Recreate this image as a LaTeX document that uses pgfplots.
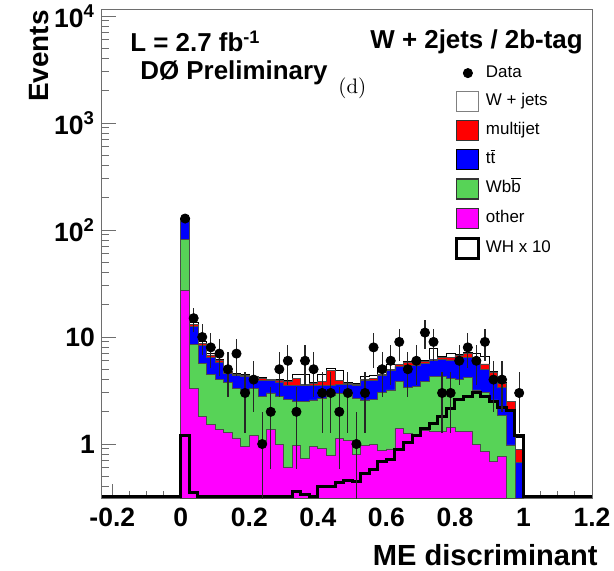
\documentclass[border=0pt]{standalone}
\usepackage{pgfplots}
\pgfplotsset{compat=1.18}
\usepackage{pgfplotstable}
\usepackage{fontspec}
\newfontfamily\hv{Liberation Sans}
\definecolor{mymag}{RGB}{255,0,255}
\definecolor{mygreen}{RGB}{87,211,87}
\definecolor{myblue}{RGB}{0,0,255}
\definecolor{myred}{RGB}{255,0,0}
\definecolor{framec}{RGB}{110,110,110}
\newcommand{\ovl}[1]{\leavevmode\vbox{\hrule height 0.5pt \kern 0.7pt \hbox{#1}}}

% cumulative stack tops per bin (left bin edge): other, +Wbb, +ttbar, +multijet, +W+jets
\pgfplotstableread{
x M G B R W
0.000 27 82 122 124 125
0.025 3.3 8.6 12.5 13.2 13.6
0.050 1.8 5.7 8.3 8.7 9.1
0.075 1.52 4.5 6.4 6.8 7.1
0.100 1.36 4.0 5.8 6.1 6.2
0.125 1.29 3.75 4.6 4.75 4.8
0.150 1.14 3.3 4.4 4.5 4.55
0.175 0.95 3.1 4.3 4.4 4.45
0.200 1.2 3.3 4.15 4.25 4.3
0.225 1.0 2.8 3.95 4.1 4.15
0.250 1.38 3.0 3.9 4.0 4.05
0.275 1.0 2.8 3.8 3.95 4.0
0.300 0.61 2.6 3.56 3.85 3.9
0.325 0.97 2.5 3.5 4.1 4.45
0.350 0.74 2.5 3.5 3.6 4.5
0.375 0.94 2.58 3.56 3.65 3.75
0.400 0.91 2.65 3.56 3.85 4.5
0.425 0.78 2.87 3.56 4.84 5.1
0.450 1.13 2.95 3.6 3.9 4.9
0.475 1.08 2.95 3.6 3.7 3.75
0.500 0.8 2.65 3.55 3.6 3.7
0.525 0.97 2.58 3.9 4.0 4.3
0.550 1.0 2.6 3.95 4.1 4.35
0.575 0.87 3.04 4.4 4.5 5.2
0.600 0.9 3.2 4.9 5.0 5.5
0.625 1.4 3.82 5.29 5.5 5.6
0.650 1.26 3.35 5.4 5.8 5.9
0.675 1.21 3.45 5.4 5.7 5.75
0.700 1.35 3.82 5.7 5.9 6.0
0.725 1.3 4.26 6.1 6.2 7.8
0.750 1.3 4.26 6.2 6.45 6.55
0.775 1.42 4.1 6.1 6.45 7.1
0.800 1.32 4.05 6.5 6.75 6.95
0.825 1.32 4.2 6.45 7.05 7.2
0.850 1.0 3.2 5.9 6.1 7.1
0.875 0.85 3.04 5.0 5.6 6.6
0.900 0.69 2.58 4.3 4.7 4.75
0.925 0.76 1.85 3.4 3.7 3.75
0.950 0.01 0.98 2.0 2.48 2.5
0.975 0.01 0.01 0.67 0.89 1.16
1.000 0.01 0.01 0.67 0.89 1.16
}\hist

\pgfplotstableread{
x WH
-0.23 0.323
0.000 1.2
0.025 0.35
0.050 0.323
0.075 0.323
0.100 0.323
0.125 0.323
0.150 0.323
0.175 0.323
0.200 0.323
0.225 0.323
0.250 0.323
0.275 0.323
0.300 0.323
0.325 0.36
0.350 0.34
0.375 0.323
0.400 0.40
0.425 0.40
0.450 0.435
0.475 0.46
0.500 0.445
0.525 0.53
0.550 0.58
0.575 0.68
0.600 0.72
0.625 0.88
0.650 1.03
0.675 1.21
0.700 1.40
0.725 1.56
0.750 1.80
0.775 2.16
0.800 2.58
0.825 2.77
0.850 3.02
0.875 2.77
0.900 2.48
0.925 2.2
0.950 2.05
0.975 1.21
1.000 0.323
1.200 0.323
}\wh

\pgfplotstableread{
x y ep em
0.0125 128 11.31 11.31
0.0375 15 3.873 3.873
0.0625 10 3.162 3.162
0.0875 8 2.828 2.828
0.1125 7 2.646 2.646
0.1375 5 2.236 2.236
0.1625 7 2.646 2.646
0.1875 3 1.732 1.732
0.2125 4 2 2
0.2375 1 1 0.999
0.2625 2 1.414 1.414
0.2875 5 2.236 2.236
0.3125 6 2.449 2.449
0.3375 2 1.414 1.414
0.3625 6 2.449 2.449
0.3875 5 2.236 2.236
0.4125 3 1.732 1.732
0.4375 3 1.732 1.732
0.4625 2 1.414 1.414
0.4875 3 1.732 1.732
0.5125 1 1 0.999
0.5375 3 1.732 1.732
0.5625 8 2.828 2.828
0.5875 5 2.236 2.236
0.6125 6 2.449 2.449
0.6375 9 3 3
0.6625 5 2.236 2.236
0.6875 6 2.449 2.449
0.7125 11 3.317 3.317
0.7375 9 3 3
0.7625 3 1.732 1.732
0.7875 3 1.732 1.732
0.8125 6 2.449 2.449
0.8375 8 2.828 2.828
0.8625 6 2.449 2.449
0.8875 9 3 3
0.9125 4 2 2
0.9375 4 2 2
0.9875 3 1.732 1.732
}\data

\begin{document}
\begin{tikzpicture}
\path[use as bounding box] (-51bp,-36.5bp) rectangle (256bp,249bp);
\begin{axis}[
  at={(0,0)}, anchor=south west,
  scale only axis, width=245bp, height=244bp,
  xmin=-0.23, xmax=1.2,
  ymode=log, ymin=0.313, ymax=11380,
  log origin y=infty,
  axis line style={draw=framec, line width=0.5bp},
  xtick={-0.2,0,0.2,0.4,0.6,0.8,1,1.2},
  xticklabels={-0.2,0,0.2,0.4,0.6,0.8,1,1.2},
  minor x tick num=3,
  ytick={1,10,100,1000,10000},
  yticklabels={1,10,10\textsuperscript{2},10\textsuperscript{3},10\textsuperscript{4}},
  minor ytick={0.4,0.5,0.6,0.7,0.8,0.9,2,3,4,5,6,7,8,9,20,30,40,50,60,70,80,90,200,300,400,500,600,700,800,900,2000,3000,4000,5000,6000,7000,8000,9000},
  xtick pos=bottom, ytick pos=left, tick align=inside,
  major tick length=7bp, minor tick length=3.5bp,
  every tick/.style={draw=framec, line width=0.5bp},
  tick label style={font=\hv\bfseries\fontsize{13.3}{15}\selectfont},
  xticklabel style={yshift=-1.5bp},
  legend style={at={(0.7204,0.892)}, anchor=north west, draw=none, fill=none,
    inner sep=0pt, row sep=4bp, font=\hv\fontsize{8.5}{10}\selectfont,
    nodes={inner ysep=0pt, inner xsep=2.8bp, text height=7bp, text depth=3bp}},
  legend cell align=left,
]
\addlegendimage{legend image code/.code={\path[draw=none, fill=none] (0bp,-5bp) rectangle (11bp,5bp); \fill[black] (5.5bp,0bp) circle (2.3bp);}}
\addlegendentry{Data}
\addlegendimage{legend image code/.code={\draw[fill=white, draw=gray, line width=0.5bp] (0bp,-5bp) rectangle (11bp,5bp);}}
\addlegendentry{W + jets}
\addlegendimage{legend image code/.code={\draw[fill=myred, draw=black!80, line width=0.5bp] (0bp,-5bp) rectangle (11bp,5bp);}}
\addlegendentry{multijet}
\addlegendimage{legend image code/.code={\draw[fill=myblue, draw=black, line width=0.6bp] (0bp,-5bp) rectangle (11bp,5bp);}}
\addlegendentry{t\ovl{t}}
\addlegendimage{legend image code/.code={\draw[fill=mygreen, draw=black!80, line width=0.6bp] (0bp,-5bp) rectangle (11bp,5bp);}}
\addlegendentry{Wb\ovl{b}}
\addlegendimage{legend image code/.code={\draw[fill=mymag, draw=black!80, line width=0.5bp] (0bp,-5bp) rectangle (11bp,5bp);}}
\addlegendentry{other}
\addlegendimage{legend image code/.code={\draw[fill=white, draw=black, line width=1.5bp] (0bp,-5bp) rectangle (11bp,5bp);}}
\addlegendentry{WH x 10}

\addplot[const plot, fill=white, draw=black, line width=0.4bp, forget plot] table[x=x,y=W]{\hist} \closedcycle;
\addplot[const plot, fill=myred, draw=black!70, line width=0.4bp, forget plot] table[x=x,y=R]{\hist} \closedcycle;
\addplot[const plot, fill=myblue, draw=black!70, line width=0.4bp, forget plot] table[x=x,y=B]{\hist} \closedcycle;
\addplot[const plot, fill=mygreen, draw=black!70, line width=0.4bp, forget plot] table[x=x,y=G]{\hist} \closedcycle;
\addplot[const plot, fill=mymag, draw=black!70, line width=0.4bp, forget plot] table[x=x,y=M]{\hist} \closedcycle;
\addplot[const plot, draw=black, line width=1.5bp, forget plot] table[x=x,y=WH]{\wh};
\addplot[only marks, mark=*, mark size=2.3bp, black, forget plot,
  error bars/.cd, y dir=both, y explicit, error mark=none,
  error bar style={line width=0.6bp, black!85}]
  table[x=x, y=y, y error plus=ep, y error minus=em]{\data};
\end{axis}
\node[rotate=90, anchor=base east, inner sep=0pt, font=\hv\bfseries\fontsize{14}{16}\selectfont] at (-27bp,244bp) {Events};
\node[anchor=base east, inner sep=0pt, font=\hv\bfseries\fontsize{14.6}{16}\selectfont] at (248bp,-33.5bp) {ME discriminant};
\node[anchor=base west, inner sep=0pt, font=\hv\bfseries\fontsize{13}{15}\selectfont] at (14bp,223bp) {L = 2.7 fb\textsuperscript{-1}};
\node[anchor=base west, inner sep=0pt, font=\hv\bfseries\fontsize{13}{15}\selectfont] at (19bp,209bp) {DØ Preliminary};
\node[anchor=base west, inner sep=0pt, font=\hv\bfseries\fontsize{13}{15}\selectfont] at (134bp,224.5bp) {W + 2jets / 2b-tag};
\node[anchor=base west, inner sep=0pt, font=\fontsize{10.5}{12}\selectfont] at (118bp,202bp) {(d)};
\end{tikzpicture}
\end{document}
